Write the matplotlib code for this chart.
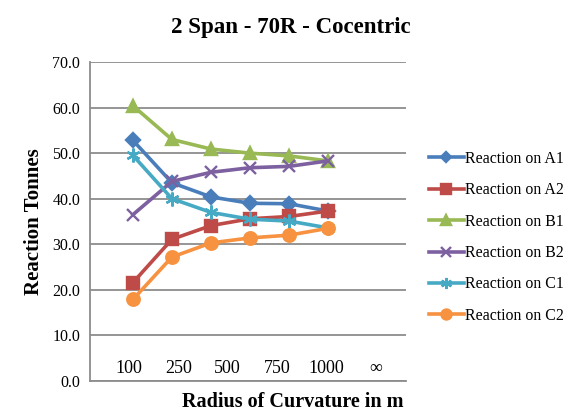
import numpy as np
import matplotlib
matplotlib.use("Agg")
import matplotlib.pyplot as plt

# radius categories (tick text) and reactions in tonnes
radius_labels = ["100", "250", "500", "750", "1000", "\u221e"]
a1 = [52.8, 43.5, 40.4, 39.0, 38.9, 37.3]
a2 = [21.6, 31.1, 34.1, 35.6, 36.1, 37.3]
b1 = [60.4, 53.0, 50.9, 50.0, 49.4, 48.3]
b2 = [36.5, 43.8, 45.8, 46.8, 47.1, 48.3]
c1 = [49.5, 40.0, 37.0, 35.5, 35.1, 33.6]
c2 = [17.9, 27.2, 30.3, 31.4, 32.0, 33.5]

SERIES = [  # label, values, color, marker, size
    ("Reaction on A1", a1, "#4A7EBB", "D", 7),
    ("Reaction on A2", a2, "#BE4B48", "s", 9),
    ("Reaction on B1", b1, "#98B954", "^", 9),
    ("Reaction on B2", b2, "#7D60A0", "x", 9),
    ("Reaction on C1", c1, "#46AAC5", (6, 2, 0), 10),
    ("Reaction on C2", c2, "#F69240", "o", 9),
]

plt.rcParams["font.family"] = ["Liberation Serif", "DejaVu Serif"]
fig = plt.figure(figsize=(5.68, 4.19), dpi=100)
ax = fig.add_axes([0.1585, 0.0907, 0.5563, 0.7613])

x = np.arange(len(a1))
for label, vals, color, marker, ms in SERIES:
    ax.plot(x, vals, color=color, lw=2.6, marker=marker, ms=ms,
            mew=1.7, label=label, zorder=3)

ax.set_xlim(-1.1, 7.0)
ax.set_ylim(0, 70)
ax.set_yticks(np.arange(0, 71, 10))
ax.set_yticklabels([f"{v:.1f}" for v in range(0, 71, 10)], fontsize=11.5)
ax.tick_params(axis="y", length=0, pad=7)
ax.set_xticks([])
ax.yaxis.grid(True, color="#8c8c8c", lw=1.3)
ax.set_axisbelow(True)
for s in ("top", "right"):
    ax.spines[s].set_visible(False)
for s in ("left", "bottom"):
    ax.spines[s].set_color("#8c8c8c")
    ax.spines[s].set_linewidth(1.3)

# category labels sit inside the plot, above the axis line, spaced wider than the points
for xl, txt in zip(np.linspace(-0.1, 6.22, len(radius_labels)), radius_labels):
    ax.text(xl, 2.85, txt, ha="center", va="center", fontsize=13)

ax.set_xlabel("Radius of Curvature in m", fontsize=14.5, fontweight="bold")
ax.xaxis.set_label_coords(0.64, -0.035)
ax.set_ylabel("Reaction Tonnes", fontsize=15, fontweight="bold", labelpad=6)
fig.text(291 / 568, 1 - 27 / 419, "2 Span - 70R - Cocentric", ha="center", va="center",
         fontsize=16.5, fontweight="bold")

fig.legend(loc="upper left", bbox_to_anchor=(429 / 568, 1 - 151 / 419), frameon=False,
           fontsize=11.4, handlelength=2.2, handletextpad=0.1, labelspacing=0.97,
           borderpad=0, borderaxespad=0, markerscale=0.8)

fig.savefig("out.png", dpi=100)
